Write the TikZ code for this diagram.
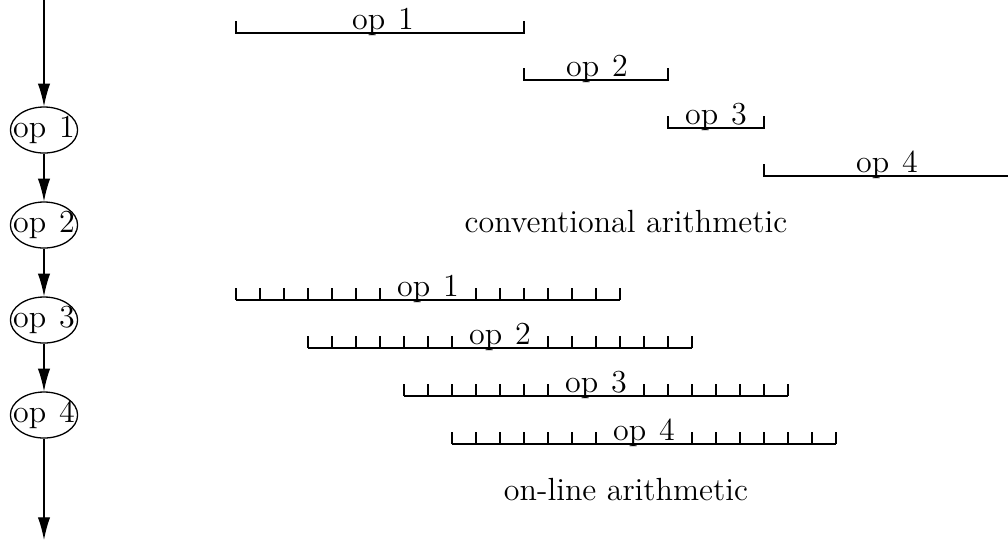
\documentclass[tikz,border=0pt]{standalone}
\usetikzlibrary{shapes.geometric,arrows.meta}
\newcommand{\opt}[1]{op\hspace{5pt}#1}
\begin{document}
\begin{tikzpicture}[x=0.387pt,y=-0.387pt,
  font=\fontsize{12.4}{14}\selectfont,
  opnode/.style={ellipse,draw,line width=0.5pt,inner sep=0pt,minimum width=26pt,minimum height=17.8pt},
  flow/.style={line width=0.5pt,-{Latex[length=8.8pt,width=4.8pt]}},
  bar/.style={line width=0.5pt},
  lab/.style={inner sep=0pt,anchor=base}]
\useasboundingbox (0,0) rectangle (1008,540);
% left column
\node[opnode] (n1) at (44,130) {\makebox[0pt]{\opt{1}}};
\node[opnode] (n2) at (44,225) {\makebox[0pt]{\opt{2}}};
\node[opnode] (n3) at (44,320) {\makebox[0pt]{\opt{3}}};
\node[opnode] (n4) at (44,415) {\makebox[0pt]{\opt{4}}};
\coordinate (top) at (44,0);
\coordinate (bot) at (44,540);
\draw[flow] (top) -- (n1);
\draw[flow] (n1) -- (n2);
\draw[flow] (n2) -- (n3);
\draw[flow] (n3) -- (n4);
\draw[flow] (n4) -- (bot);
% conventional arithmetic
\draw[bar] (236,21) -- (236,33) -- (524,33) -- (524,21);
\node[lab] (c1) at (383,29) {\opt{1}};
\draw[bar] (524,68) -- (524,80) -- (668,80) -- (668,68);
\node[lab] (c2) at (597,76) {\opt{2}};
\draw[bar] (668,116) -- (668,128) -- (764,128) -- (764,116);
\node[lab] (c3) at (716,124) {\opt{3}};
\draw[bar] (764,164) -- (764,176) -- (1008,176);
\node[lab] (c4) at (887,172) {\opt{4}};
\node[lab] (conv) at (626,232) {conventional arithmetic};
% on-line arithmetic
\foreach \x/\y/\n in {236/300/1,308/348/2,404/396/3,452/444/4}{
  \draw[bar] (\x,\y) -- ({\x+384},\y);
  \foreach \k in {0,1,2,3,4,5,6,10,11,12,13,14,15,16}
    \draw[bar] ({\x+24*\k},\y) -- ({\x+24*\k},{\y-12});
  \node[lab] (o\n) at ({\x+192},{\y-4}) {\opt{\n}};
}
\node[lab] (onl) at (626,500) {on-line arithmetic};
\end{tikzpicture}
\end{document}
